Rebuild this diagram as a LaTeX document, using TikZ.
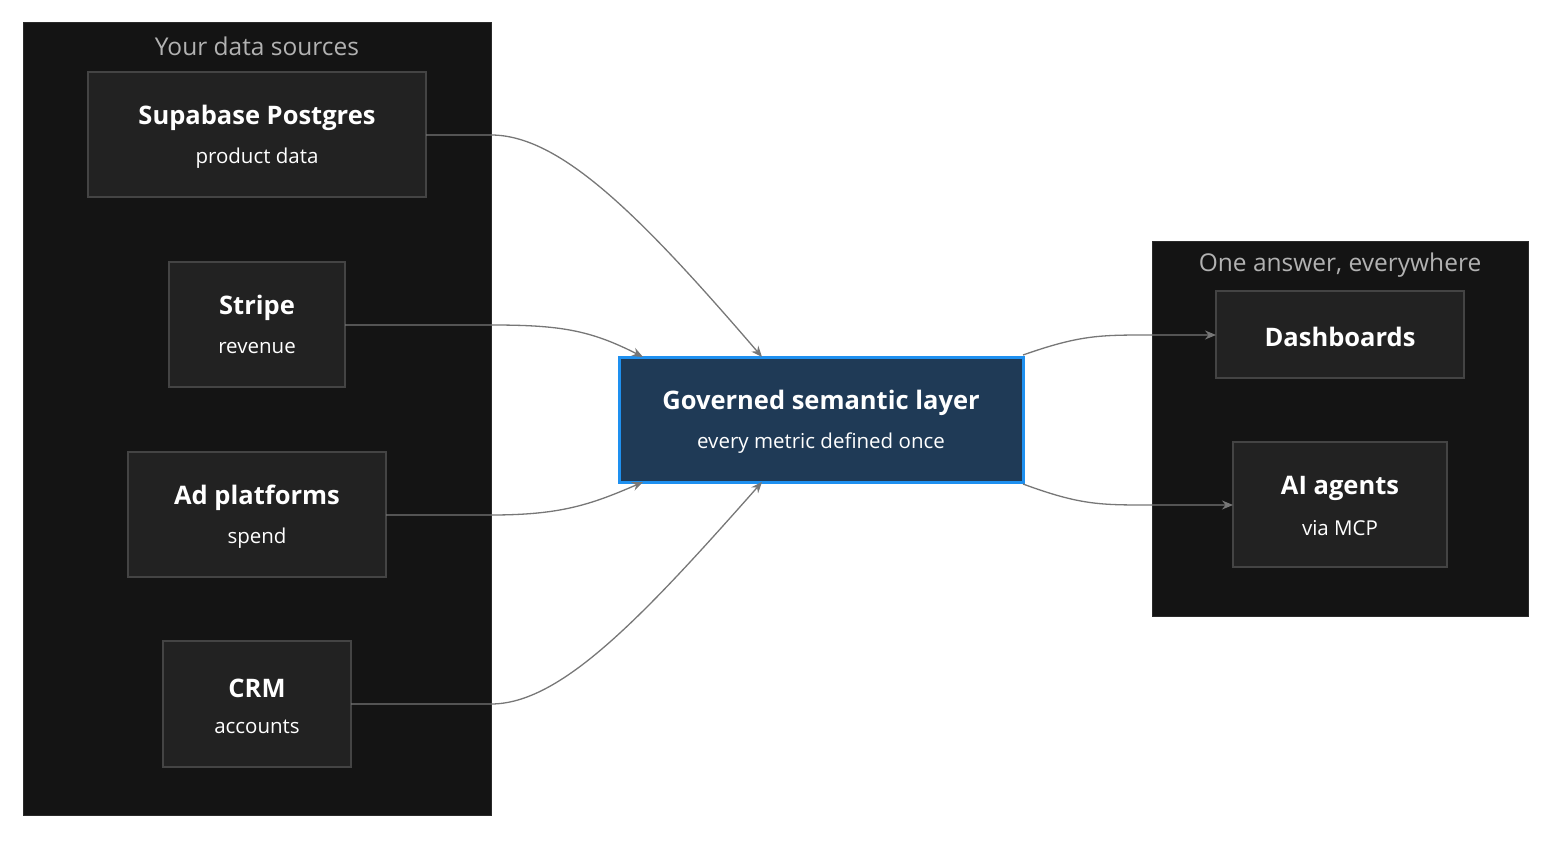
\documentclass[tikz,border=0pt]{standalone}
\usepackage{fontspec}
\setmainfont{Open Sans}
\usetikzlibrary{arrows.meta}
\definecolor{clbg}{HTML}{141414}
\definecolor{clbd}{HTML}{2A2A2A}
\definecolor{nbg}{HTML}{222222}
\definecolor{nbd}{HTML}{444444}
\definecolor{cbg}{HTML}{1F3A56}
\definecolor{cbd}{HTML}{1E90F0}
\definecolor{edge}{HTML}{777777}
\tikzset{
 cluster/.style={fill=clbg,draw=clbd,line width=1pt},
 box/.style={fill=nbg,draw=nbd,line width=2pt},
 ttl/.style={text=white,font=\fontsize{25.5}{28}\selectfont\bfseries},
 sub/.style={text=white,font=\fontsize{20.5}{23}\selectfont},
 ctitle/.style={text=black!30,font=\fontsize{24.5}{27}\selectfont},
 conn/.style={draw=edge,line width=1.3pt,-{Stealth[length=11pt,width=9pt]}},
}
\begin{document}
\begin{tikzpicture}[x=1pt,y=-1pt]
\useasboundingbox (0,0) rectangle (1568,850);
\draw[cluster] (23,23) rectangle (491,815);
\node[ctitle] (t1) at (257,46) {Your data sources};
\draw[cluster] (1152,242) rectangle (1528,616);
\node[ctitle] (t2) at (1340,265) {One answer, everywhere};

\draw[box] (88,72) rectangle (426,197); \coordinate (s1) at (426,135);
\node[ttl] (s1t) at (257,118) {Supabase Postgres}; \node[sub] (s1s) at (257,158) {product data};
\draw[box] (169,262) rectangle (345,387); \coordinate (s2) at (345,325);
\node[ttl] (s2t) at (257,308) {Stripe}; \node[sub] (s2s) at (257,348) {revenue};
\draw[box] (128,452) rectangle (386,577); \coordinate (s3) at (386,515);
\node[ttl] (s3t) at (257,498) {Ad platforms}; \node[sub] (s3s) at (257,538) {spend};
\draw[box] (163,641) rectangle (351,767); \coordinate (s4) at (351,704);
\node[ttl] (s4t) at (257,688) {CRM}; \node[sub] (s4s) at (257,727) {accounts};

\draw[fill=cbg,draw=cbd,line width=3pt] (619,357) rectangle (1023,482);
\node[ttl] (ct) at (821,403) {Governed semantic layer};
\node[sub] (cs) at (821,443) {every metric defined once};
\coordinate (c1) at (762,357); \coordinate (c2) at (643,357);
\coordinate (c3) at (643,482); \coordinate (c4) at (762,482);
\coordinate (o1) at (1023,355); \coordinate (o2) at (1023,484);

\draw[box] (1216,291) rectangle (1464,378); \coordinate (d) at (1216,335);
\node[ttl] (dt) at (1340,337) {Dashboards};
\draw[box] (1233,442) rectangle (1447,567); \coordinate (a) at (1233,505);
\node[ttl] (at) at (1340,488) {AI agents}; \node[sub] (as) at (1340,528) {via MCP};

\draw[conn] (s1) -- (491,135) .. controls (560,135) and (640,215) .. (c1);
\draw[conn] (s2) -- (491,325) .. controls (560,325) and (590,330) .. (c2);
\draw[conn] (s3) -- (491,515) .. controls (560,515) and (590,505) .. (c3);
\draw[conn] (s4) -- (491,704) .. controls (560,704) and (640,620) .. (c4);
\draw[conn] (o1) .. controls (1080,335) and (1100,335) .. (1150,335) -- (d);
\draw[conn] (o2) .. controls (1080,505) and (1100,505) .. (1150,505) -- (a);
\end{tikzpicture}
\end{document}
